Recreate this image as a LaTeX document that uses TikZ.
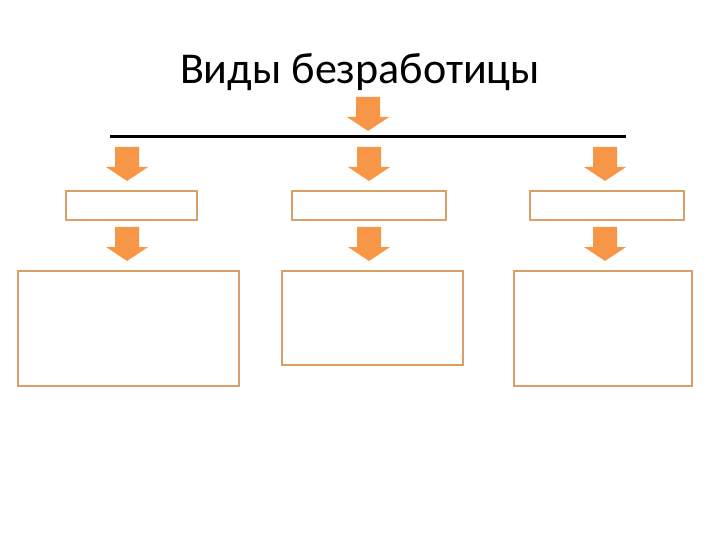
\documentclass[tikz,border=0pt]{standalone}
\usepackage{fontspec}
\setmainfont{Carlito}
\definecolor{arrowor}{RGB}{247,150,70}
\definecolor{boxor}{RGB}{218,160,104}
\tikzset{
  boxy/.style={draw=boxor, line width=2pt, fill=white, inner sep=0pt, anchor=north west},
  downarrow/.pic={\fill[arrowor] (-12,0) -- (12,0) -- (12,-20) -- (21,-20) -- (0,-34) -- (-21,-20) -- (-12,-20) -- cycle;}
}
\begin{document}
\begin{tikzpicture}[x=1pt,y=1pt]
\useasboundingbox (0,0) rectangle (720,-540);
\node[anchor=base, font=\fontsize{44}{50}\selectfont] (title) at (360,-84) {Виды безработицы};
\pic at (368,-97) {downarrow};
\coordinate (la) at (110,-137);
\coordinate (lb) at (626,-137);
\draw[line width=3pt] (la) -- (lb);
\foreach \cx in {127,369,605} {
  \pic at (\cx,-147) {downarrow};
  \pic at (\cx,-227) {downarrow};
}
\node[boxy, minimum width=131, minimum height=29] (s1) at (65,-190) {};
\node[boxy, minimum width=154, minimum height=29] (s2) at (291,-190) {};
\node[boxy, minimum width=154, minimum height=29] (s3) at (529,-190) {};
\node[boxy, minimum width=221, minimum height=115] (b1) at (17,-270) {};
\node[boxy, minimum width=181, minimum height=94] (b2) at (281,-270) {};
\node[boxy, minimum width=178, minimum height=115] (b3) at (513,-270) {};
\end{tikzpicture}
\end{document}
